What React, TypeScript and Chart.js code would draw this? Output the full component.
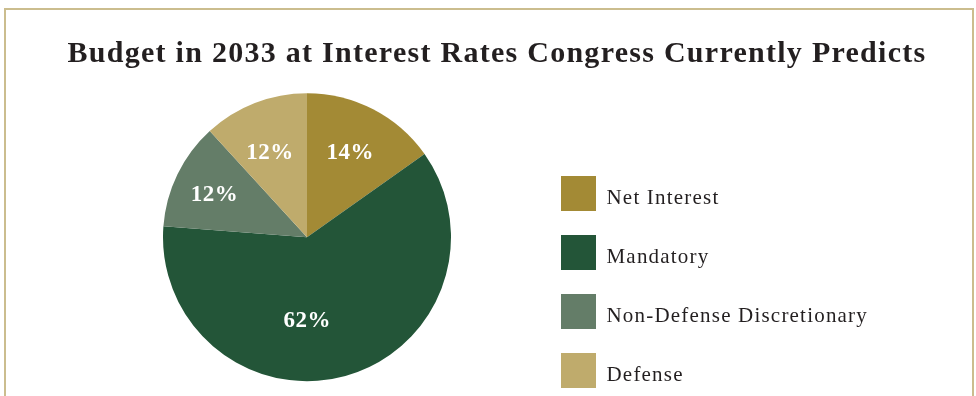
import React, { useEffect, useRef } from "react";
import { Chart, registerables } from "chart.js";

Chart.register(...registerables);

const TITLE = "Budget in 2033 at Interest Rates Congress Currently Predicts";
const categories = ["Net Interest", "Mandatory", "Non-Defense Discretionary", "Defense"];
const shares = [15.2, 61.0, 12.0, 11.8];
const shareLabels = ["14%", "62%", "12%", "12%"];
const colors = ["#a38a35", "#235538", "#647d68", "#bfab6c"];
const labelAngleFrac = [0.49, 0.57, 0.48, 0.45];
const labelRadiusFrac = [0.665, 0.57, 0.71, 0.65];

const TEXT_DARK = "#231f20";

function track(box: any, spacing: string, dy: number) {
  if (!box || box.$tracked) return;
  const orig = box.draw;
  box.draw = function (area: any) {
    const ctx = this.ctx;
    ctx.save();
    (ctx as any).letterSpacing = spacing;
    const proto = Object.getPrototypeOf(ctx);
    const nativeFill = proto.fillText;
    if (dy) {
      (ctx as any).fillText = function (...args: any[]) {
        args[2] = args[2] + dy;
        return nativeFill.apply(ctx, args);
      };
    }
    try {
      orig.call(this, area);
    } finally {
      if (dy) delete (ctx as any).fillText;
      ctx.restore();
    }
  };
  box.$tracked = true;
}

const styleHelpers = {
  id: "styleHelpers",
  afterLayout(chart: any) {
    const lg = chart.legend;
    if (lg) {
      lg.right = lg.left + 420;
      lg.width = 420;
    }
    const tb = chart.titleBlock;
    if (tb) {
      const c = (tb.left + tb.right) / 2;
      tb.left = c - 460;
      tb.right = c + 460;
      tb.width = 920;
    }
  },
  beforeDraw(chart: any) {
    track(chart.titleBlock, "1.27px", 0);
    track(chart.legend, "1.2px", 5);
  },
};

const sliceLabels = {
  id: "sliceLabels",
  afterDatasetsDraw(chart: any) {
    const meta = chart.getDatasetMeta(0);
    const ctx = chart.ctx;
    const size = 23;
    ctx.save();
    ctx.font = `bold ${size}px 'Liberation Serif'`;
    (ctx as any).letterSpacing = "0.5px";
    ctx.fillStyle = "#ffffff";
    ctx.textAlign = "center";
    ctx.textBaseline = "alphabetic";
    meta.data.forEach((arc: any, i: number) => {
      const p = arc.getProps(["x", "y", "startAngle", "endAngle", "outerRadius"], true);
      const a = p.startAngle + (p.endAngle - p.startAngle) * labelAngleFrac[i];
      const r = p.outerRadius * labelRadiusFrac[i];
      ctx.fillText(shareLabels[i], p.x + Math.cos(a) * r, p.y + Math.sin(a) * r + size * 0.331);
    });
    ctx.restore();
  },
};

export default function App() {
  const ref = useRef<HTMLCanvasElement | null>(null);
  useEffect(() => {
    if (!ref.current) return;
    const chart = new Chart(ref.current, {
      type: "pie",
      data: {
        labels: categories,
        datasets: [
          {
            data: shares,
            backgroundColor: colors,
            borderWidth: 0,
          },
        ],
      },
      options: {
        responsive: false,
        animation: false,
        radius: 144,
        layout: { padding: { left: 77, right: 59, top: 0, bottom: 0 } },
        plugins: {
          tooltip: { enabled: false },
          title: {
            display: true,
            text: TITLE,
            color: TEXT_DARK,
            font: { family: "'Liberation Serif'", size: 30, weight: "bold", lineHeight: 0.55 },
            padding: { top: 45.8, bottom: 0 },
          },
          subtitle: {
            display: true,
            position: "right",
            text: "",
            font: { size: 10, lineHeight: 1 },
            padding: { top: 80, bottom: 80 },
          },
          legend: {
            position: "right",
            align: "end",
            labels: {
              boxWidth: 35,
              boxHeight: 35,
              padding: 24,
              color: TEXT_DARK,
              font: { family: "'Liberation Serif'", size: 21 },
            },
          },
        },
      } as any,
      plugins: [styleHelpers, sliceLabels],
    });
    return () => chart.destroy();
  }, []);
  return (
    <>
      <style>{"html,body{margin:0;padding:0;overflow:hidden;background:#fff;}"}</style>
      <div
        style={{
          position: "absolute",
          left: 4,
          top: 8,
          width: 970,
          height: 440,
          boxSizing: "border-box",
          border: "2px solid #cbbd8e",
        }}
      />
      <canvas
        ref={ref}
        width={976}
        height={412}
        style={{ position: "absolute", left: 0, top: 0, display: "block" }}
      />
    </>
  );
}
